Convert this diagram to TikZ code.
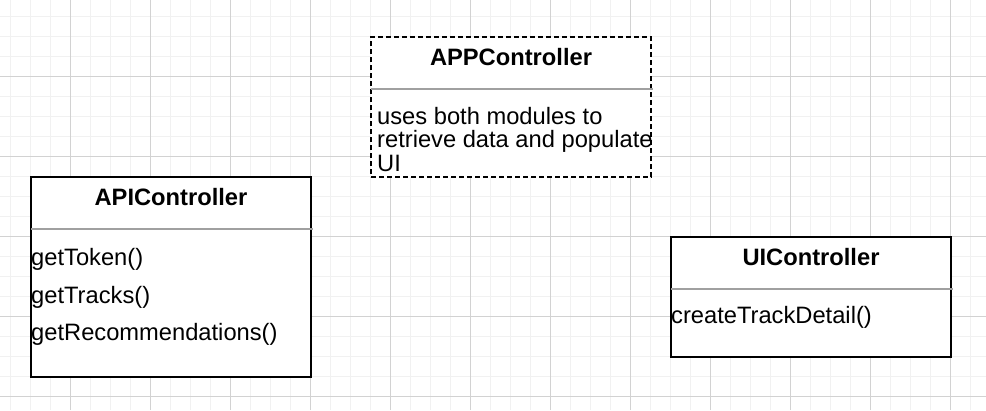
\documentclass[tikz,border=0pt]{standalone}
\usepackage{fontspec}
\setmainfont{Liberation Sans}
\usetikzlibrary{calc}
\definecolor{gridminor}{HTML}{F1F1F1}
\definecolor{gridmajor}{HTML}{D2D2D2}
\definecolor{divider}{HTML}{A0A0A0}

\begin{document}
\begin{tikzpicture}[x=1pt, y=-1pt,
		classbox/.style={draw, line width=1.4pt, fill=white, minimum width=280pt, inner sep=0pt, outer sep=0pt, anchor=north west},
		title/.style={font=\fontsize{23.7}{23.5}\selectfont\bfseries, anchor=base},
		member/.style={font=\fontsize{23.7}{23.5}\selectfont, anchor=base west, inner sep=0pt}]
			\useasboundingbox (0,0) rectangle (986,410);
			\fill[white] (0,0) rectangle (986,410);

			% grid
			\foreach \x in {10,30,...,970} {
				\draw[gridminor, line width=1pt] (\x,0) -- (\x,410);
			}
			\foreach \y in {16,36,...,396} {
				\draw[gridminor, line width=1pt] (0,\y) -- (986,\y);
			}
			\foreach \x in {70,150,...,950} {
				\draw[gridmajor, line width=1pt] (\x,0) -- (\x,410);
			}
			\foreach \y in {76,156,...,396} {
				\draw[gridmajor, line width=1pt] (0,\y) -- (986,\y);
			}

			% boxes
			\node[classbox, line width=1.6pt, dash pattern=on 5pt off 3pt, minimum height=140pt] (app) at (371,37) {};
			\node[classbox, minimum height=200pt] (api) at (31,177) {};
			\node[classbox, minimum height=120pt] (ui) at (671,237) {};

			\foreach \b in {app,api,ui} {
				\draw[divider, line width=1.5pt] ($(\b.north west)+(0,52)$) -- ($(\b.north east)+(2,52)$);
			}

			% titles
			\node[title] (apptitle) at ($(app.north)+(0,28)$) {APPController};
			\node[title] (apititle) at ($(api.north)+(0,28)$) {APIController};
			\node[title] (uititle) at ($(ui.north)+(0,28)$) {UIController};

			% members
			\node[member] (appnote1) at ($(app.north west)+(6,87)$) {uses both modules to};
			\node[member] (appnote2) at ($(app.north west)+(6,110)$) {retrieve data and populate};
			\node[member] (appnote3) at ($(app.north west)+(6,134)$) {UI};

			\node[member] (gettoken) at ($(api.north west)+(0,88)$) {getToken()};
			\node[member] (gettracks) at ($(api.north west)+(0,126)$) {getTracks()};
			\node[member] (getrec) at ($(api.north west)+(0,163)$) {getRecommendations()};

			\node[member] (createtrack) at ($(ui.north west)+(0,86)$) {createTrackDetail()};
		\end{tikzpicture}
\end{document}
